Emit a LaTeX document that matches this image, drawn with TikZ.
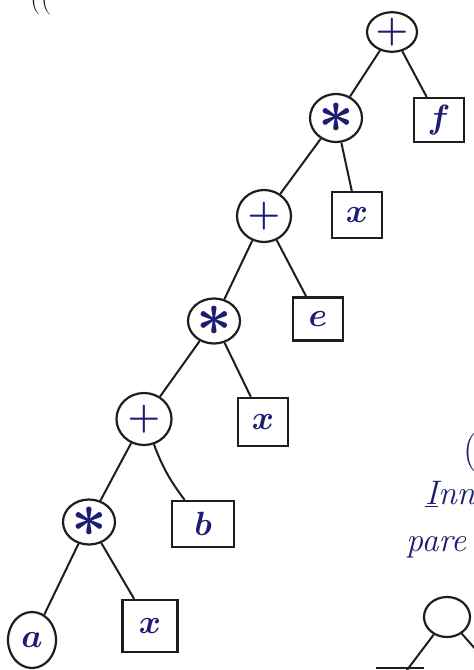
\documentclass[tikz,border=0pt]{standalone}
\usepackage{fontspec}
\usetikzlibrary{shapes.geometric}
\definecolor{ink}{RGB}{28,28,112}
\definecolor{pencil}{RGB}{30,30,30}
% enlarged math labels for the tree nodes
\newcommand{\oplbl}[1]{\scalebox{1.5}{$#1$}}
\newcommand{\opstar}{\scalebox{2.5}{$\ast$}}
\newcommand{\leaflbl}[1]{\scalebox{1.35}{$#1$}}
\tikzset{
  sz/.style 2 args={minimum width=#1pt, minimum height=#2pt},
  opnode/.style={draw=pencil, line width=2.2pt, ellipse, inner sep=0pt,
    text=ink, font=\fontsize{24}{24}\selectfont\boldmath},
  leafbox/.style={draw=pencil, line width=2.2pt, rectangle, inner sep=0pt,
    text=ink, font=\fontsize{24}{24}\selectfont\boldmath},
  branch/.style={draw=pencil, line width=2pt},
  note/.style={text=ink, inner sep=0pt, anchor=west,
    font=\fontsize{34}{34}\selectfont\itshape}
}
\begin{document}
\begin{tikzpicture}[x=1pt, y=-1pt]
  \clip (0,0) rectangle (474,670);
  \fill[white] (0,0) rectangle (474,670);

  % expression tree, from the root down
  \node[opnode,  sz={50}{38}] (p1) at (392,32)  {\oplbl{+}};
  \node[opnode,  sz={52}{48}] (m1) at (336,118) {\opstar};
  \node[leafbox, sz={50}{44}] (f)  at (439,120) {\leaflbl{f}};
  \node[opnode,  sz={54}{52}] (p2) at (264,216) {\oplbl{+}};
  \node[leafbox, sz={50}{46}] (x1) at (357,215) {\leaflbl{x}};
  \node[opnode,  sz={52}{45}] (m2) at (214,321) {\opstar};
  \node[leafbox, sz={50}{43}] (e)  at (318,319) {\leaflbl{e}};
  \node[opnode,  sz={55}{52}] (p3) at (144,419) {\oplbl{+}};
  \node[leafbox, sz={50}{48}] (x2) at (263,422) {\leaflbl{x}};
  \node[opnode,  sz={52}{45}] (m3) at (89,522)  {\opstar};
  \node[leafbox, sz={62}{46}] (b)  at (203,524) {\leaflbl{b}};
  \node[opnode,  sz={48}{56}] (a)  at (32,640)  {\leaflbl{a}};
  \node[leafbox, sz={55}{52}] (x3) at (150,626) {\leaflbl{x}};

  \draw[branch] (p1) -- (m1);
  \draw[branch] (p1) -- (f);
  \draw[branch] (m1) -- (p2);
  \draw[branch] (m1) -- (x1);
  \draw[branch] (p2) -- (m2);
  \draw[branch] (p2) -- (e);
  \draw[branch] (m2) -- (p3);
  \draw[branch] (m2) -- (x2);
  \draw[branch] (p3) -- (m3);
  \draw[branch] (p3) to[bend right=8] (b);
  \draw[branch] (m3) -- (a);
  \draw[branch] (m3) -- (x3);

  % notes running off the right and top edges
  \node[note, text=pencil, font=\fontsize{30}{30}\selectfont] (top) at (30,0) {((};
  \node[note, font=\fontsize{40}{40}\selectfont] (paren) at (463,453) {(};
  \node[note] (inn)  at (425,494) {\underline{I}nn};
  \node[note] (pare) at (406,547) {pare};

  % start of a second tree
  \node[opnode, sz={46}{40}] (stub) at (447,617) {};
  \coordinate (stubL) at (404,674);
  \coordinate (stubR) at (478,652);
  \coordinate (baseA) at (376,668);
  \coordinate (baseB) at (424,668);
  \draw[branch] (stub) -- (stubL);
  \draw[branch] (stub) -- (stubR);
  \draw[branch] (baseA) -- (baseB);
\end{tikzpicture}
\end{document}
